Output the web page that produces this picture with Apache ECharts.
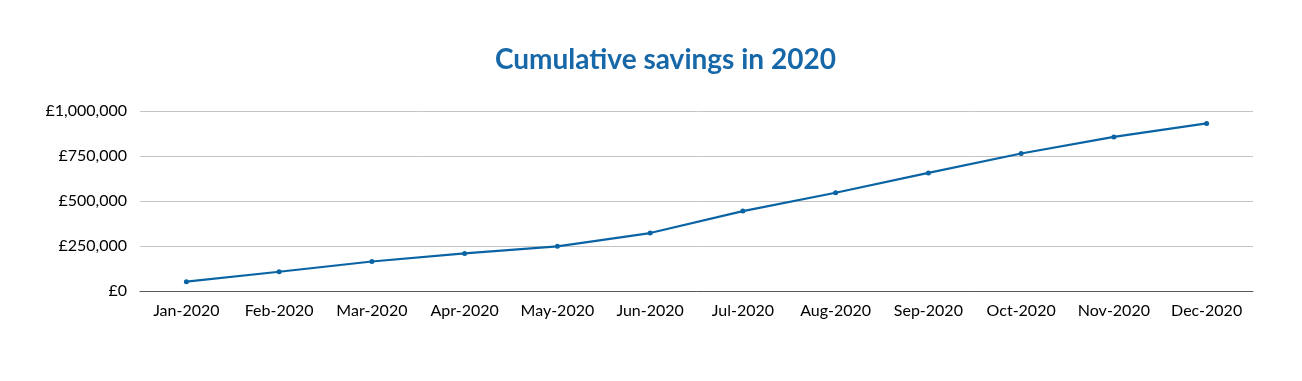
<!DOCTYPE html>
<html><head><meta charset="utf-8">
<script src="https://cdn.jsdelivr.net/npm/echarts@6/dist/echarts.min.js"></script>
<style>html,body{margin:0;padding:0;background:#fff}#c{width:1302px;height:381px}</style>
</head><body><div id="c"></div>
<script>
const categories = ['Jan-2020','Feb-2020','Mar-2020','Apr-2020','May-2020','Jun-2020','Jul-2020','Aug-2020','Sep-2020','Oct-2020','Nov-2020','Dec-2020'];
const savings = [52000,107000,164000,209000,248000,322000,444000,546000,656000,764000,856000,931000];
const chart = echarts.init(document.getElementById('c'), null, {renderer:'canvas'});
chart.setOption({
  animation:false,
  backgroundColor:'#ffffff',
  title:{text:'Cumulative savings in 2020',left:490,top:41,
    textStyle:{fontFamily:'Lato',fontWeight:'bold',fontSize:28,color:'#1768a8'}},
  grid:{left:140,right:49,top:111,bottom:90,containLabel:false},
  xAxis:{type:'category',data:categories,boundaryGap:true,
    axisLine:{lineStyle:{color:'#595959',width:1}},
    axisTick:{show:false},
    axisLabel:{color:'#000',fontFamily:'Lato',fontSize:16,margin:12,interval:0}},
  yAxis:{type:'value',min:0,max:1000000,interval:250000,
    axisLine:{show:false},axisTick:{show:false},
    splitLine:{lineStyle:{color:'#c4c4c4',width:1}},
    axisLabel:{color:'#000',fontFamily:'Lato',fontSize:16,margin:13,
      formatter:v=>'£'+v.toLocaleString('en-GB')}},
  series:[{type:'line',data:savings,symbol:'circle',symbolSize:5,
    lineStyle:{color:'#0a64a4',width:2.2},itemStyle:{color:'#0a64a4'}}]
});
</script></body></html>
